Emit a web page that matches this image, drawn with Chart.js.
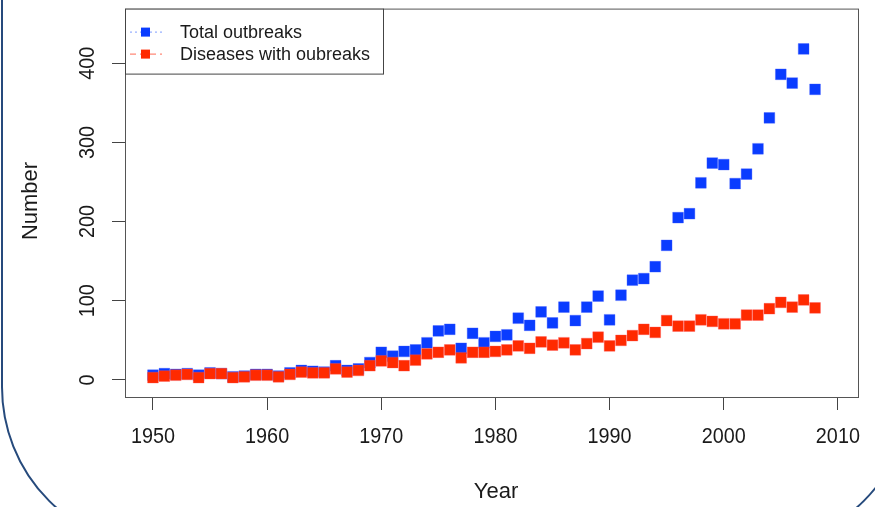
<!DOCTYPE html>
<html>
<head>
<meta charset="utf-8">
<script src="https://cdn.jsdelivr.net/npm/chart.js@4.4.1/dist/chart.umd.min.js"></script>
<style>
  html, body { margin: 0; padding: 0; background: #ffffff; overflow: hidden; }
  #wrap { position: relative; width: 875px; height: 507px; overflow: hidden; background: #fff; }
  #frame { position: absolute; left: 1px; top: -300px; width: 911px; height: 849px;
           border: 2px solid #264a7c; border-radius: 162px; box-sizing: border-box; }
  #c { position: absolute; left: 0; top: 0; }
</style>
</head>
<body>
<div id="wrap">
  <div id="frame"></div>
  <canvas id="c" width="875" height="507"></canvas>
</div>
<script>
const years = [1950,1951,1952,1953,1954,1955,1956,1957,1958,1959,
               1960,1961,1962,1963,1964,1965,1966,1967,1968,1969,
               1970,1971,1972,1973,1974,1975,1976,1977,1978,1979,
               1980,1981,1982,1983,1984,1985,1986,1987,1988,1989,
               1990,1991,1992,1993,1994,1995,1996,1997,1998,1999,
               2000,2001,2002,2003,2004,2005,2006,2007,2008];
const totalOutbreaks = [6,8,7,8,6,9,8,4,5,7,
                        7,5,9,12,11,10,18,12,14,22,
                        35,30,36,38,47,62,64,40,59,47,
                        55,57,78,69,86,72,92,75,92,106,
                        76,107,126,128,143,170,205,210,249,274,
                        272,248,260,292,331,386,375,418,367];
const diseasesWithOutbreaks = [3,5,6,7,3,8,8,3,4,6,
                               6,4,7,10,9,9,14,10,12,18,
                               24,22,18,25,33,35,38,28,35,35,
                               36,38,43,40,48,44,47,38,46,54,
                               43,50,56,64,60,75,68,68,76,74,
                               71,71,82,82,90,98,92,101,91];
const xTicks = [1950,1960,1970,1980,1990,2000,2010];
const yTicks = [0,100,200,300,400];
const seriesNames = ['Total outbreaks', 'Diseases with oubreaks'];
const xTitle = 'Year';
const yTitle = 'Number';

const BLUE = '#0a3cff';
const RED = '#ff2a00';
const FONT = "'Liberation Sans', Arial, sans-serif";
const TEXT = '#1a1a1a';

function narrowText(ctx, txt, x, y, rot, sx) {
  ctx.save();
  ctx.translate(x, y);
  if (rot) ctx.rotate(rot);
  ctx.scale(sx, 1);
  ctx.fillText(txt, 0, 0);
  ctx.restore();
}

const textPlugin = {
  id: 'rtext',
  afterDraw(chart) {
    const ctx = chart.ctx;
    const a = chart.chartArea;
    const xs = chart.scales.x, ys = chart.scales.y;
    ctx.save();
    // plot box
    ctx.strokeStyle = '#555';
    ctx.lineWidth = 1;
    ctx.strokeRect(a.left + 0.5, a.top + 0.5, a.right - a.left - 1, a.bottom - a.top);
    // x tick labels
    ctx.fillStyle = TEXT;
    ctx.font = '22px ' + FONT;
    ctx.textAlign = 'center';
    ctx.textBaseline = 'middle';
    xTicks.forEach(v => narrowText(ctx, String(v), xs.getPixelForValue(v), 437, 0, 0.9));
    // y tick labels (rotated)
    yTicks.forEach(v => narrowText(ctx, String(v), 88, ys.getPixelForValue(v), -Math.PI / 2, 0.9));
    // axis titles
    ctx.font = '22px ' + FONT;
    narrowText(ctx, xTitle, 496, 492, 0, 1);
    narrowText(ctx, yTitle, 31, 201, -Math.PI / 2, 1);
    // legend
    const lx = a.left, ly = a.top, lw = 258, lh = 65;
    ctx.fillStyle = '#fff';
    ctx.fillRect(lx, ly, lw, lh);
    ctx.strokeStyle = '#444';
    ctx.strokeRect(lx + 0.5, ly + 0.5, lw, lh);
    const rows = [
      {name: seriesNames[0], color: BLUE, line: '#7f9cff', dash: [2, 3], y: ly + 23},
      {name: seriesNames[1], color: RED, line: '#ff6a55', dash: [6, 4], y: ly + 45}
    ];
    rows.forEach(r => {
      ctx.strokeStyle = r.line;
      ctx.lineWidth = 1;
      ctx.setLineDash(r.dash);
      ctx.beginPath();
      ctx.moveTo(lx + 5, r.y + 0.5);
      ctx.lineTo(lx + 37, r.y + 0.5);
      ctx.stroke();
      ctx.setLineDash([]);
      ctx.fillStyle = r.color;
      ctx.fillRect(lx + 16, r.y - 4, 9, 9);
      ctx.fillStyle = TEXT;
      ctx.font = '18px ' + FONT;
      ctx.textAlign = 'left';
      ctx.fillText(r.name, lx + 55, r.y + 1);
    });
    ctx.restore();
  }
};

new Chart(document.getElementById('c'), {
  type: 'scatter',
  data: {
    datasets: [
      {
        label: seriesNames[0],
        data: years.map((y, i) => ({x: y, y: totalOutbreaks[i]})),
        backgroundColor: BLUE,
        borderColor: 'rgba(60,90,255,0.35)',
        borderWidth: 1,
        pointStyle: 'rect',
        pointRadius: 7.6,
        order: 1
      },
      {
        label: seriesNames[1],
        data: years.map((y, i) => ({x: y, y: diseasesWithOutbreaks[i]})),
        backgroundColor: RED,
        borderColor: 'rgba(255,80,80,0.35)',
        borderWidth: 1,
        pointStyle: 'rect',
        pointRadius: 7.6,
        order: 0
      }
    ]
  },
  options: {
    responsive: false,
    animation: false,
    events: [],
    layout: { padding: { left: 0, top: 8, right: 16, bottom: 0 } },
    plugins: { legend: { display: false }, tooltip: { enabled: false } },
    scales: {
      x: {
        type: 'linear',
        min: 1947.55,
        max: 2011.85,
        afterBuildTicks: s => { s.ticks = xTicks.map(v => ({value: v})); },
        afterFit: s => { s.height = 110; },
        ticks: { display: false },
        grid: { display: true, drawOnChartArea: false, drawTicks: true, tickLength: 13, color: '#444', lineWidth: 1 },
        border: { display: false }
      },
      y: {
        type: 'linear',
        min: -21.5,
        max: 469,
        afterBuildTicks: s => { s.ticks = yTicks.map(v => ({value: v})); },
        afterFit: s => { s.width = 125; },
        ticks: { display: false },
        grid: { display: true, drawOnChartArea: false, drawTicks: true, tickLength: 13, color: '#444', lineWidth: 1 },
        border: { display: false }
      }
    }
  },
  plugins: [textPlugin]
});
</script>
</body>
</html>
